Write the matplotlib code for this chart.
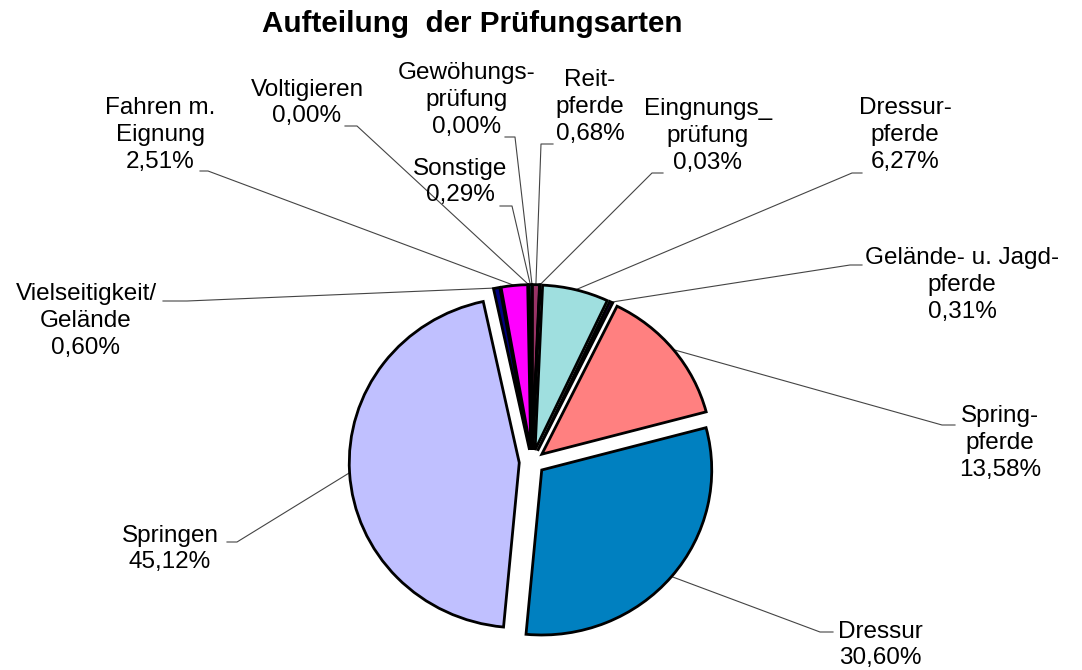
import matplotlib.pyplot as plt
import numpy as np

plt.rcParams['font.family'] = ['Liberation Sans', 'DejaVu Sans']

W, H = 1082, 670

# Daten
categories = ["Reit-\npferde", "Eingnungs_\nprüfung", "Dressur-\npferde",
              "Gelände- u. Jagd-\npferde", "Spring-\npferde", "Dressur",
              "Springen", "Vielseitigkeit/\nGelände", "Fahren m.\nEignung",
              "Voltigieren", "Sonstige", "Gewöhungs-\nprüfung"]
shares = [0.68, 0.03, 6.27, 0.31, 13.58, 30.60, 45.12, 0.60, 2.51, 0.00, 0.29, 0.00]
colors = ["#993366", "#ffffcc", "#9fdfdf", "#330066", "#ff8080", "#0080c0",
          "#c0c0ff", "#000080", "#ff00ff", "#ffff00", "#33ccff", "#ffcc99"]

# Beschriftung: Textmitte (x, y) und Stummel (x_fern, x_nah, y) in Pixeln
text_pos = [(590, 107), (708, 136), (905, 135), (962, 285), (1000, 443),
            (880, 645), (170, 549), (86, 321), (160, 135), (307, 103),
            (460, 182), (467, 100)]
stubs = [(553, 541, 144), (663, 652, 173), (862, 852, 173), (862, 850, 265),
         (955, 942, 425), (833, 820, 632), (227, 237, 542), (163, 187, 301),
         (200, 208, 171), (345, 357, 126), (500, 512, 206), (505, 515, 137)]

# Tortengeometrie (Pixel)
cx, cy, rx, ry = 532, 462, 170, 165
m = 1.3

fig = plt.figure(figsize=(W / 100, H / 100), dpi=100)
ov = fig.add_axes([0, 0, 1, 1])
ov.set_xlim(0, W)
ov.set_ylim(H, 0)
ov.axis('off')

ax = fig.add_axes([(cx - m * rx) / W, (H - cy - m * ry) / H, 2 * m * rx / W, 2 * m * ry / H])
wedges, _ = ax.pie(shares, explode=[0.075] * len(shares), colors=colors,
                   startangle=90, counterclock=False,
                   wedgeprops=dict(edgecolor='black', linewidth=2))
ax.set_aspect('auto')
ax.set_xlim(-m, m)
ax.set_ylim(-m, m)

inv = ov.transData.inverted()
for w, name, v, (tx, ty), (sx0, sx1, sy) in zip(wedges, categories, shares, text_pos, stubs):
    mid = np.deg2rad((w.theta1 + w.theta2) / 2)
    px = w.center[0] + w.r * np.cos(mid)
    py = w.center[1] + w.r * np.sin(mid)
    ex, ey = inv.transform(ax.transData.transform((px, py)))
    ov.plot([sx0, sx1, ex], [sy, sy, ey], color='#444444', lw=0.8)
    lab = name + "\n" + f"{v:.2f}".replace('.', ',') + "%"
    ov.text(tx, ty, lab, ha='center', va='center', fontsize=17.5, linespacing=1.27)

fig.text(472 / W, 1 - 24 / H, "Aufteilung  der Prüfungsarten", ha='center', va='center',
         fontsize=21.3, fontweight='bold')

fig.savefig("out.png", dpi=100)
